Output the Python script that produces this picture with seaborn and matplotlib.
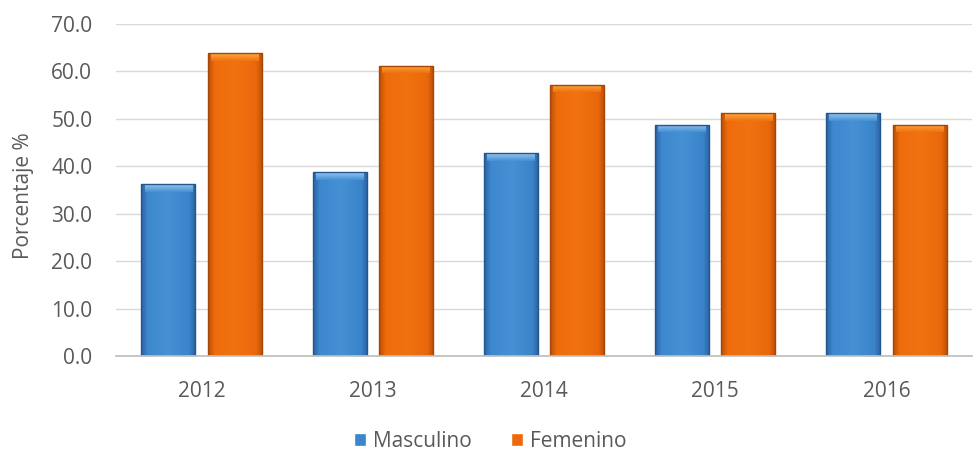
import matplotlib
matplotlib.use("Agg")
import matplotlib.pyplot as plt
import seaborn as sns
import pandas as pd
import numpy as np
from matplotlib.colors import LinearSegmentedColormap

years = ["2012", "2013", "2014", "2015", "2016"]
masculino = [36.2, 38.8, 42.8, 48.8, 51.2]
femenino = [63.8, 61.2, 57.2, 51.2, 48.8]
series_names = ["Masculino", "Femenino"]
y_ticks = [0, 10, 20, 30, 40, 50, 60, 70]

df = pd.DataFrame({
    "Año": years * 2,
    "Valor": masculino + femenino,
    "Sexo": [series_names[0]] * len(years) + [series_names[1]] * len(years),
})

sns.set_theme(style="white")
plt.rcParams["font.family"] = ["Open Sans", "DejaVu Sans"]

fig = plt.figure(figsize=(9.74, 4.58), dpi=100)
ax = fig.add_axes([0.119, 0.2227, 0.879, 0.7249])

palette = {"Masculino": "#3b86cc", "Femenino": "#ec6a0c"}
sns.barplot(data=df, x="Año", y="Valor", hue="Sexo", palette=palette,
            width=0.775, gap=0.186, ax=ax, saturation=1, legend=True)

ax.set_ylim(0, 70)
xlim = ax.get_xlim()

# subtle horizontal shading + light top bevel, clipped to each bar
shade = {
    "Masculino": [(0.0, "#2a62a0"), (0.12, "#3d88ce"), (0.5, "#4690d4"),
                  (0.88, "#3a84ca"), (1.0, "#2a62a0")],
    "Femenino": [(0.0, "#b84f08"), (0.12, "#ee6c0c"), (0.5, "#f17210"),
                 (0.88, "#ea680c"), (1.0, "#b84f08")],
}
bevel = {"Masculino": "#92c8f0", "Femenino": "#fbaa40"}
mid = {"Masculino": "#4690d4", "Femenino": "#f17210"}
edge = {"Masculino": "#24568c", "Femenino": "#a54606"}
for cont, name in zip(ax.containers, series_names):
    cmap = LinearSegmentedColormap.from_list(name, shade[name])
    grad = np.linspace(0, 1, 128).reshape(1, -1)
    bcm = LinearSegmentedColormap.from_list(name + "b", [bevel[name], mid[name]])
    for p in cont.patches:
        x0, y0 = p.get_x(), p.get_y()
        w, h = p.get_width(), p.get_height()
        z = p.get_zorder()
        im = ax.imshow(grad, cmap=cmap, aspect="auto",
                       extent=[x0, x0 + w, y0, y0 + h], zorder=z + 0.1,
                       interpolation="bilinear")
        im.set_clip_path(p)
        bh = 1.6
        bg = np.linspace(0, 1, 32).reshape(-1, 1)
        im2 = ax.imshow(bg, cmap=bcm, aspect="auto",
                        extent=[x0 + w * 0.06, x0 + w * 0.94, y0 + h - bh, y0 + h],
                        zorder=z + 0.2, interpolation="bilinear")
        im2.set_clip_path(p)
        r = plt.Rectangle((x0, y0), w, h, fill=False, edgecolor=edge[name],
                          linewidth=1.0, zorder=z + 0.3)
        ax.add_patch(r)

ax.set_xlim(xlim)
ax.set_ylim(0, 70)
ax.set_yticks(y_ticks)
ax.set_yticklabels([f"{v:.1f}" for v in y_ticks])
ax.yaxis.grid(True, color="#d9d9d9", linewidth=1)
ax.set_axisbelow(True)
for s in ["top", "right", "left"]:
    ax.spines[s].set_visible(False)
ax.spines["bottom"].set_color("#bfbfbf")
ax.tick_params(axis="y", colors="#595959", labelsize=15, length=0, pad=17)
ax.tick_params(axis="x", colors="#595959", labelsize=15, length=0, pad=18)
ax.set_xlabel("")
ax.set_ylabel("Porcentaje %", color="#595959", fontsize=15)
ax.yaxis.set_label_coords(-0.096, 0.482)

handles, labels = ax.get_legend_handles_labels()
ax.legend(handles, labels, loc="center", bbox_to_anchor=(0.437, -0.258),
          ncol=2, frameon=False, fontsize=15, handlelength=0.6,
          handleheight=0.6, handletextpad=0.3, columnspacing=1.9,
          labelcolor="#595959")

fig.savefig("out.png", dpi=100)
